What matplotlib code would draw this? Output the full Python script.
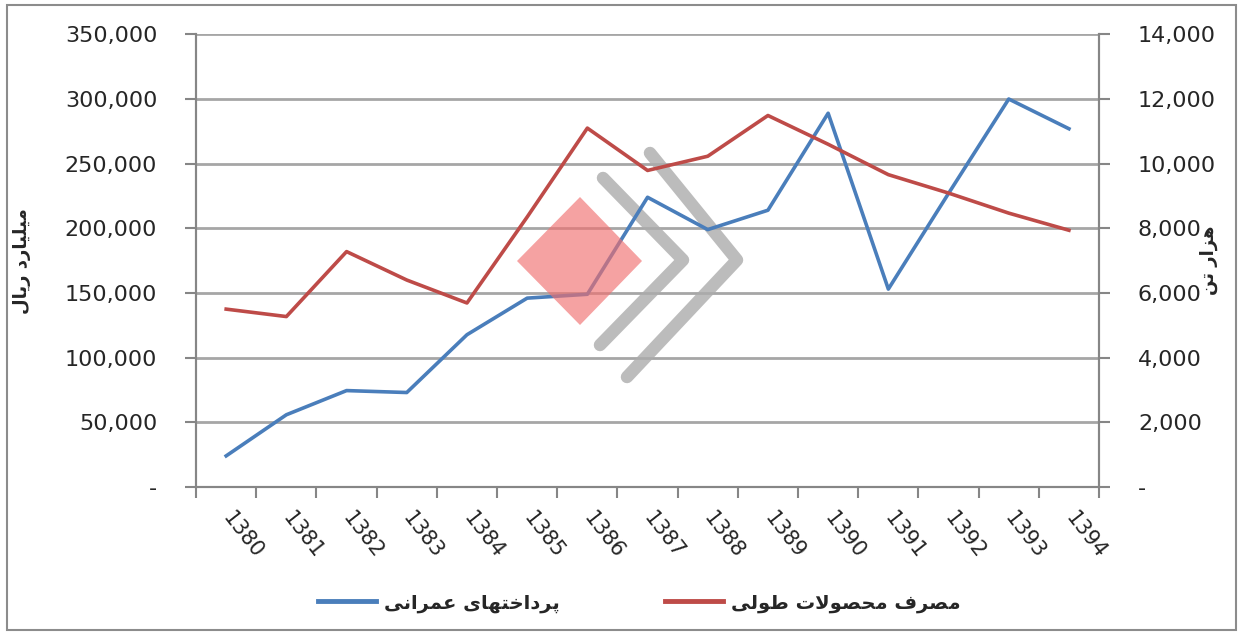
import matplotlib
matplotlib.use('Agg')
import matplotlib.pyplot as plt
from matplotlib.ticker import FuncFormatter, MultipleLocator, FixedLocator
from matplotlib.lines import Line2D
from matplotlib.patches import Polygon, Rectangle

# --- data -------------------------------------------------------------
years = ['1380', '1381', '1382', '1383', '1384', '1385', '1386', '1387',
         '1388', '1389', '1390', '1391', '1392', '1393', '1394']
# construction payments (billion rials, left axis)
payments = [24000, 55800, 74500, 73000, 117700, 146000, 149000, 224000,
            199000, 214000, 289000, 153000, 227000, 300000, 277000]
# long steel products consumption (thousand tonnes, right axis)
consumption = [5500, 5270, 7280, 6400, 5690, 8350, 11100, 9790,
               10230, 11490, 10600, 9660, 9090, 8470, 7940]

label_payments = 'پرداختهای عمرانی'
label_consumption = 'مصرف محصولات طولی'
ylabel_left = 'میلیارد ریال'
ylabel_right = 'هزار تن'

# --- minimal Persian shaping (matplotlib has no shaping / bidi) --------
FORMS = {
    'ا': ('\uFE8D', '\uFE8E', None, None),
    'پ': ('\uFB56', '\uFB57', '\uFB58', '\uFB59'),
    'ت': ('\uFE95', '\uFE96', '\uFE97', '\uFE98'),
    'ح': ('\uFEA1', '\uFEA2', '\uFEA3', '\uFEA4'),
    'خ': ('\uFEA5', '\uFEA6', '\uFEA7', '\uFEA8'),
    'د': ('\uFEA9', '\uFEAA', None, None),
    'ر': ('\uFEAD', '\uFEAE', None, None),
    'ز': ('\uFEAF', '\uFEB0', None, None),
    'ص': ('\uFEB9', '\uFEBA', '\uFEBB', '\uFEBC'),
    'ط': ('\uFEC1', '\uFEC2', '\uFEC3', '\uFEC4'),
    'ع': ('\uFEC9', '\uFECA', '\uFECB', '\uFECC'),
    'ف': ('\uFED1', '\uFED2', '\uFED3', '\uFED4'),
    'ل': ('\uFEDD', '\uFEDE', '\uFEDF', '\uFEE0'),
    'م': ('\uFEE1', '\uFEE2', '\uFEE3', '\uFEE4'),
    'ن': ('\uFEE5', '\uFEE6', '\uFEE7', '\uFEE8'),
    'ه': ('\uFEE9', '\uFEEA', '\uFEEB', '\uFEEC'),
    'و': ('\uFEED', '\uFEEE', None, None),
    'ی': ('\uFBFC', '\uFBFD', '\uFBFE', '\uFBFF'),
}


def joins_next(c):
    return c in FORMS and FORMS[c][2] is not None


def shape(text):
    chars = list(text)
    out = []
    i = 0
    while i < len(chars):
        c = chars[i]
        if c not in FORMS:
            out.append(c)
            i += 1
            continue
        prev = chars[i - 1] if i > 0 else None
        cprev = prev is not None and joins_next(prev)
        if c == 'ل' and i + 1 < len(chars) and chars[i + 1] == 'ا':
            out.append('\uFEFC' if cprev else '\uFEFB')
            i += 2
            continue
        nxt = chars[i + 1] if i + 1 < len(chars) else None
        cnext = joins_next(c) and nxt in FORMS
        iso, fin, ini, med = FORMS[c]
        if cprev and cnext:
            out.append(med)
        elif cprev:
            out.append(fin)
        elif cnext:
            out.append(ini)
        else:
            out.append(iso)
        i += 1
    return ''.join(reversed(out))


plt.rcParams['font.family'] = ['DejaVu Sans']
BLUE = '#4a7ebb'
RED = '#be4b48'
GRID = '#a6a6a6'
AXIS = '#868686'
TXT = '#262626'

fig = plt.figure(figsize=(12.41, 6.34), dpi=100)
ax = fig.add_axes([0.158, 0.232, 0.7276, 0.7138])
ax2 = ax.twinx()

x = list(range(len(years)))
ax.plot(x, payments, color=BLUE, lw=2.6, zorder=3)
ax2.plot(x, consumption, color=RED, lw=2.6, zorder=3)

ax.set_xlim(-0.5, len(years) - 0.5)
ax.set_ylim(0, 350000)
ax2.set_ylim(0, 14000)
ax.yaxis.set_major_locator(MultipleLocator(50000))
ax2.yaxis.set_major_locator(MultipleLocator(2000))


def fmt(v, pos):
    return '-' if v == 0 else f'{int(v):,}'


ax.yaxis.set_major_formatter(FuncFormatter(fmt))
ax2.yaxis.set_major_formatter(FuncFormatter(fmt))

ax.grid(axis='y', color=GRID, lw=2)
ax.set_axisbelow(True)

# category boundaries carry the tick marks, centres carry the labels
ax.xaxis.set_major_locator(FixedLocator([i - 0.5 for i in range(len(years) + 1)]))
ax.xaxis.set_major_formatter(FuncFormatter(lambda v, p: ''))
ax.set_xticks(x, years, minor=True)
ax.tick_params(axis='x', which='major', length=8, width=1.5, color=AXIS, direction='out')
ax.tick_params(axis='x', which='minor', length=0, pad=20, labelsize=15, labelcolor=TXT)
for lab in ax.get_xticklabels(minor=True):
    lab.set_rotation(-52)
    lab.set_ha('left')
    lab.set_va('center')
    lab.set_rotation_mode('anchor')

ax.tick_params(axis='y', length=8, width=1.5, color=AXIS, pad=20, labelsize=16, labelcolor=TXT)
ax2.tick_params(axis='y', length=8, width=1.5, color=AXIS, pad=20, labelsize=16, labelcolor=TXT)

for a in (ax, ax2):
    a.spines['top'].set_visible(False)
    for s in ('left', 'right', 'bottom'):
        a.spines[s].set_color(AXIS)
        a.spines[s].set_linewidth(1.5)

ax.set_ylabel(shape(ylabel_left), fontsize=13, color=TXT, labelpad=24, fontweight='bold')
ax2.set_ylabel(shape(ylabel_right), fontsize=13, color=TXT, labelpad=-12, fontweight='bold')

# watermark logo (decorative, figure pixel coords)
W, H = 1241.0, 634.0


def fp(px, py):
    return (px / W, 1 - py / H)


ax.add_artist(Polygon([fp(580, 197), fp(642, 261), fp(580, 325), fp(517, 261)],
                      closed=True, transform=fig.transFigure, clip_on=False,
                      facecolor='#f07070', alpha=0.65, edgecolor='none', zorder=4))
for pts in ([(603, 178), (683, 260), (600, 345)],
            [(650, 153), (737, 260), (627, 377)]):
    xs = [fp(*p)[0] for p in pts]
    ys = [fp(*p)[1] for p in pts]
    ax.add_artist(Line2D(xs, ys, transform=fig.transFigure, color='#acacac',
                         alpha=0.8, lw=9, solid_capstyle='round', clip_on=False,
                         solid_joinstyle='round', zorder=2.5))

# legend
handles = [Line2D([], [], color=BLUE, lw=3.5), Line2D([], [], color=RED, lw=3.5)]
fig.legend(handles, [shape(label_payments), shape(label_consumption)],
           loc='center', bbox_to_anchor=(0.515, 0.049), ncol=2, frameon=False,
           prop={'size': 14, 'weight': 'bold'}, handlelength=3.0,
           handletextpad=0.4, columnspacing=5.4, labelcolor=TXT)

# chart border
fig.add_artist(Rectangle((0.006, 0.006), 0.99, 0.986, transform=fig.transFigure,
                         fill=False, edgecolor='#8c8c8c', lw=1.5))

fig.savefig('out.png', dpi=100)
